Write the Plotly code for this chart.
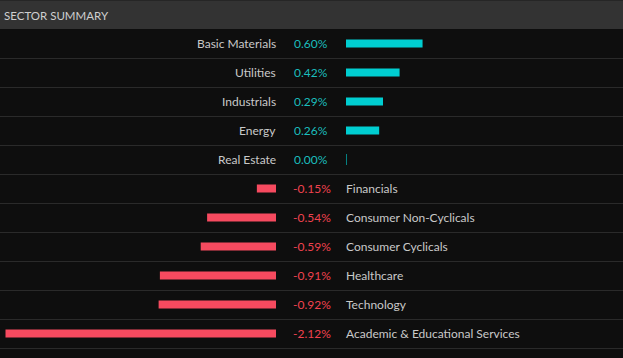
import plotly.graph_objects as go

sectors = ["Basic Materials", "Utilities", "Industrials", "Energy", "Real Estate",
           "Financials", "Consumer Non-Cyclicals", "Consumer Cyclicals", "Healthcare",
           "Technology", "Academic & Educational Services"]
changes = [0.60, 0.42, 0.29, 0.26, 0.00, -0.15, -0.54, -0.59, -0.91, -0.92, -2.12]
title_text = "SECTOR SUMMARY"

W, H = 623, 358
BG = "#0e0e0e"
HEADER = "#333333"
TEAL = "#00ced1"
TEAL_TXT = "#1bbdbd"
RED = "#f64a5f"
RED_TXT = "#f0424e"
LABEL = "#c9c9c9"
SEP = "#2a2a2a"
FONT = "Lato, 'Open Sans', sans-serif"

PX_PER_PCT = 127.6
neg_right = 276
pos_left = 346
n = len(sectors)

pos_x = [v if v > 0 else None for v in changes]
neg_x = [v if v < 0 else None for v in changes]
zero_y = [s for s, v in zip(sectors, changes) if v == 0]

fig = go.Figure()
fig.add_trace(go.Bar(y=sectors, x=neg_x, orientation="h", marker_color=RED,
                     marker_line_width=0, width=8 / 29, xaxis="x", yaxis="y",
                     hoverinfo="skip"))
fig.add_trace(go.Bar(y=sectors, x=pos_x, orientation="h", marker_color=TEAL,
                     marker_line_width=0, width=8 / 29, xaxis="x2", yaxis="y",
                     hoverinfo="skip"))
fig.add_trace(go.Scatter(y=zero_y, x=[0] * len(zero_y), mode="markers", xaxis="x2", yaxis="y",
                         marker=dict(symbol="line-ns", size=8, line=dict(color=TEAL, width=1.2)),
                         hoverinfo="skip"))

annotations = []
for s, v in zip(sectors, changes):
    pct = f"{v:.2f}%"
    if v >= 0:
        annotations.append(dict(x=(neg_right + 2) / W, y=s, xref="paper", yref="y", text=s,
                                xanchor="right", showarrow=False, font=dict(color=LABEL, size=12, family=FONT)))
        annotations.append(dict(x=292 / W, y=s, xref="paper", yref="y", text=pct,
                                xanchor="left", showarrow=False, font=dict(color=TEAL_TXT, size=12, family=FONT)))
    else:
        annotations.append(dict(x=290.5 / W, y=s, xref="paper", yref="y", text=pct,
                                xanchor="left", showarrow=False, font=dict(color=RED_TXT, size=12, family=FONT)))
        annotations.append(dict(x=(pos_left - 2) / W, y=s, xref="paper", yref="y", text=s,
                                xanchor="left", showarrow=False, font=dict(color=LABEL, size=12, family=FONT)))
annotations.append(dict(x=2 / W, y=1 - 16 / H, xref="paper", yref="paper", text=title_text,
                        xanchor="left", yanchor="middle", showarrow=False,
                        font=dict(color="#cfcfcf", size=11.5, family=FONT)))

shapes = [dict(type="rect", xref="paper", yref="paper", x0=0, x1=1, y0=1 - 29 / H, y1=1 - 1 / H,
               fillcolor=HEADER, line_width=0, layer="below"),
          dict(type="rect", xref="paper", yref="paper", x0=0, x1=1, y0=1 - 1 / H, y1=1,
               fillcolor="#262626", line_width=0, layer="below")]
for k in range(1, n + 1):
    yy = 1 - (29 + 29 * k + 0.5) / H
    shapes.append(dict(type="line", xref="paper", yref="paper", x0=0, x1=1, y0=yy, y1=yy,
                       line=dict(color=SEP, width=1.2), layer="below"))

neg_span = neg_right / PX_PER_PCT
pos_span = (W - pos_left) / PX_PER_PCT
fig.update_layout(
    width=W, height=H, margin=dict(l=0, r=0, t=0, b=0),
    paper_bgcolor=BG, plot_bgcolor=BG, showlegend=False, barmode="overlay",
    xaxis=dict(domain=[0, neg_right / W], range=[-neg_span, 0], visible=False, fixedrange=True),
    xaxis2=dict(domain=[pos_left / W, 1], range=[0, pos_span], visible=False, fixedrange=True,
                anchor="y"),
    yaxis=dict(range=[(H - 43.5) / 29, -43.5 / 29], visible=False, fixedrange=True,
               categoryorder="array", categoryarray=sectors),
    annotations=annotations, shapes=shapes,
)
fig.write_html("out.html", config={"displayModeBar": False},
               post_script="document.body.style.margin='0';document.body.style.background='#0e0e0e';document.body.style.overflow='hidden';")
